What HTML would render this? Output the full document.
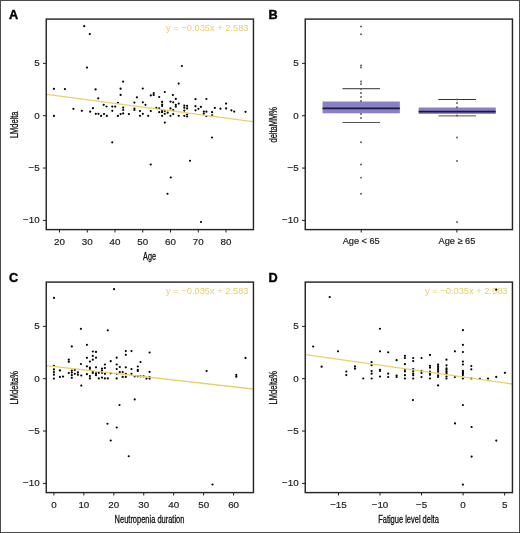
<!DOCTYPE html>
<html><head><meta charset="utf-8"><style>
html,body{margin:0;padding:0;background:#fff;}
svg{display:block;font-family:"Liberation Sans", sans-serif;will-change:transform;}
</style></head><body>
<svg width="520" height="533" viewBox="0 0 520 533" font-family='"Liberation Sans", sans-serif'>
<rect x="0.5" y="0.5" width="519" height="532" fill="#fff" stroke="#4a4a4a" stroke-width="1"/>
<text x="8.9" y="18.8" font-size="12.7" font-weight="bold" fill="#000" stroke="#000" stroke-width="0.4">A</text>
<text x="268.5" y="18.8" font-size="12.7" font-weight="bold" fill="#000" stroke="#000" stroke-width="0.4">B</text>
<text x="8.9" y="281.8" font-size="12.7" font-weight="bold" fill="#000" stroke="#000" stroke-width="0.4">C</text>
<text x="268.5" y="281.8" font-size="12.7" font-weight="bold" fill="#000" stroke="#000" stroke-width="0.4">D</text>
<line x1="59.50" y1="229" x2="59.50" y2="232.5" stroke="#1c1c1c" stroke-width="1"/>
<text x="59.50" y="244.6" font-size="9.8" text-anchor="middle" fill="#222" stroke="#222" stroke-width="0.2">20</text>
<line x1="87.25" y1="229" x2="87.25" y2="232.5" stroke="#1c1c1c" stroke-width="1"/>
<text x="87.25" y="244.6" font-size="9.8" text-anchor="middle" fill="#222" stroke="#222" stroke-width="0.2">30</text>
<line x1="115.00" y1="229" x2="115.00" y2="232.5" stroke="#1c1c1c" stroke-width="1"/>
<text x="115.00" y="244.6" font-size="9.8" text-anchor="middle" fill="#222" stroke="#222" stroke-width="0.2">40</text>
<line x1="142.75" y1="229" x2="142.75" y2="232.5" stroke="#1c1c1c" stroke-width="1"/>
<text x="142.75" y="244.6" font-size="9.8" text-anchor="middle" fill="#222" stroke="#222" stroke-width="0.2">50</text>
<line x1="170.50" y1="229" x2="170.50" y2="232.5" stroke="#1c1c1c" stroke-width="1"/>
<text x="170.50" y="244.6" font-size="9.8" text-anchor="middle" fill="#222" stroke="#222" stroke-width="0.2">60</text>
<line x1="198.25" y1="229" x2="198.25" y2="232.5" stroke="#1c1c1c" stroke-width="1"/>
<text x="198.25" y="244.6" font-size="9.8" text-anchor="middle" fill="#222" stroke="#222" stroke-width="0.2">70</text>
<line x1="226.00" y1="229" x2="226.00" y2="232.5" stroke="#1c1c1c" stroke-width="1"/>
<text x="226.00" y="244.6" font-size="9.8" text-anchor="middle" fill="#222" stroke="#222" stroke-width="0.2">80</text>
<line x1="43" y1="63.35" x2="46" y2="63.35" stroke="#1c1c1c" stroke-width="1"/>
<text x="39.7" y="66.35" font-size="9.8" text-anchor="end" fill="#222" stroke="#222" stroke-width="0.2">5</text>
<line x1="43" y1="115.70" x2="46" y2="115.70" stroke="#1c1c1c" stroke-width="1"/>
<text x="39.7" y="118.70" font-size="9.8" text-anchor="end" fill="#222" stroke="#222" stroke-width="0.2">0</text>
<line x1="43" y1="168.05" x2="46" y2="168.05" stroke="#1c1c1c" stroke-width="1"/>
<text x="39.7" y="171.05" font-size="9.8" text-anchor="end" fill="#222" stroke="#222" stroke-width="0.2">−5</text>
<line x1="43" y1="220.40" x2="46" y2="220.40" stroke="#1c1c1c" stroke-width="1"/>
<text x="39.7" y="223.40" font-size="9.8" text-anchor="end" fill="#222" stroke="#222" stroke-width="0.2">−10</text>
<text transform="translate(17.6,124.8) rotate(-90) scale(0.72,1)" x="0" y="0" font-size="10.4" text-anchor="middle" fill="#111" stroke="#111" stroke-width="0.3">LMdelta</text>
<text transform="translate(149.5,259.6) scale(0.7,1)" x="0" y="0" font-size="10.4" text-anchor="middle" fill="#111" stroke="#111" stroke-width="0.3">Age</text>
<text x="248.5" y="31.0" font-size="9.3" text-anchor="end" fill="#e8cf6c">y = −0.035x + 2.583</text>
<circle cx="84.20" cy="26.20" r="1.1" fill="#000"/>
<circle cx="89.80" cy="34.10" r="1.1" fill="#000"/>
<circle cx="87.00" cy="67.60" r="1.1" fill="#000"/>
<circle cx="181.90" cy="66.00" r="1.1" fill="#000"/>
<circle cx="123.10" cy="81.60" r="1.1" fill="#000"/>
<circle cx="178.70" cy="83.60" r="1.1" fill="#000"/>
<circle cx="53.90" cy="88.85" r="1.1" fill="#000"/>
<circle cx="64.90" cy="89.10" r="1.1" fill="#000"/>
<circle cx="73.40" cy="108.80" r="1.1" fill="#000"/>
<circle cx="81.80" cy="110.80" r="1.1" fill="#000"/>
<circle cx="90.20" cy="111.70" r="1.1" fill="#000"/>
<circle cx="92.90" cy="108.20" r="1.1" fill="#000"/>
<circle cx="53.90" cy="115.90" r="1.1" fill="#000"/>
<circle cx="95.60" cy="89.40" r="1.1" fill="#000"/>
<circle cx="95.80" cy="113.80" r="1.1" fill="#000"/>
<circle cx="120.60" cy="88.70" r="1.1" fill="#000"/>
<circle cx="120.60" cy="94.90" r="1.1" fill="#000"/>
<circle cx="98.20" cy="98.30" r="1.1" fill="#000"/>
<circle cx="136.90" cy="97.30" r="1.1" fill="#000"/>
<circle cx="117.90" cy="102.80" r="1.1" fill="#000"/>
<circle cx="134.40" cy="102.60" r="1.1" fill="#000"/>
<circle cx="103.70" cy="104.80" r="1.1" fill="#000"/>
<circle cx="106.50" cy="106.50" r="1.1" fill="#000"/>
<circle cx="112.30" cy="106.60" r="1.1" fill="#000"/>
<circle cx="115.20" cy="106.60" r="1.1" fill="#000"/>
<circle cx="123.20" cy="107.60" r="1.1" fill="#000"/>
<circle cx="123.20" cy="110.00" r="1.1" fill="#000"/>
<circle cx="134.40" cy="108.50" r="1.1" fill="#000"/>
<circle cx="134.40" cy="110.00" r="1.1" fill="#000"/>
<circle cx="112.30" cy="110.80" r="1.1" fill="#000"/>
<circle cx="98.50" cy="113.80" r="1.1" fill="#000"/>
<circle cx="104.00" cy="114.10" r="1.1" fill="#000"/>
<circle cx="101.10" cy="115.90" r="1.1" fill="#000"/>
<circle cx="106.80" cy="115.90" r="1.1" fill="#000"/>
<circle cx="117.90" cy="115.90" r="1.1" fill="#000"/>
<circle cx="120.60" cy="114.10" r="1.1" fill="#000"/>
<circle cx="123.20" cy="113.40" r="1.1" fill="#000"/>
<circle cx="128.90" cy="114.10" r="1.1" fill="#000"/>
<circle cx="142.80" cy="88.50" r="1.1" fill="#000"/>
<circle cx="164.80" cy="92.00" r="1.1" fill="#000"/>
<circle cx="153.70" cy="93.00" r="1.1" fill="#000"/>
<circle cx="153.70" cy="94.90" r="1.1" fill="#000"/>
<circle cx="150.80" cy="95.40" r="1.1" fill="#000"/>
<circle cx="172.90" cy="95.10" r="1.1" fill="#000"/>
<circle cx="159.20" cy="97.00" r="1.1" fill="#000"/>
<circle cx="175.80" cy="98.90" r="1.1" fill="#000"/>
<circle cx="142.80" cy="102.30" r="1.1" fill="#000"/>
<circle cx="145.50" cy="104.80" r="1.1" fill="#000"/>
<circle cx="162.10" cy="101.90" r="1.1" fill="#000"/>
<circle cx="162.10" cy="104.50" r="1.1" fill="#000"/>
<circle cx="162.10" cy="106.00" r="1.1" fill="#000"/>
<circle cx="170.50" cy="101.60" r="1.1" fill="#000"/>
<circle cx="173.20" cy="102.30" r="1.1" fill="#000"/>
<circle cx="175.80" cy="104.80" r="1.1" fill="#000"/>
<circle cx="175.80" cy="106.70" r="1.1" fill="#000"/>
<circle cx="178.70" cy="103.60" r="1.1" fill="#000"/>
<circle cx="156.30" cy="107.90" r="1.1" fill="#000"/>
<circle cx="159.20" cy="108.40" r="1.1" fill="#000"/>
<circle cx="170.50" cy="108.40" r="1.1" fill="#000"/>
<circle cx="173.20" cy="110.10" r="1.1" fill="#000"/>
<circle cx="140.00" cy="111.00" r="1.1" fill="#000"/>
<circle cx="150.80" cy="111.00" r="1.1" fill="#000"/>
<circle cx="162.10" cy="110.80" r="1.1" fill="#000"/>
<circle cx="162.10" cy="112.20" r="1.1" fill="#000"/>
<circle cx="159.20" cy="112.20" r="1.1" fill="#000"/>
<circle cx="164.80" cy="111.00" r="1.1" fill="#000"/>
<circle cx="167.70" cy="112.70" r="1.1" fill="#000"/>
<circle cx="142.80" cy="113.80" r="1.1" fill="#000"/>
<circle cx="164.80" cy="113.80" r="1.1" fill="#000"/>
<circle cx="173.20" cy="114.10" r="1.1" fill="#000"/>
<circle cx="140.00" cy="115.80" r="1.1" fill="#000"/>
<circle cx="148.20" cy="115.80" r="1.1" fill="#000"/>
<circle cx="162.10" cy="115.80" r="1.1" fill="#000"/>
<circle cx="170.50" cy="115.80" r="1.1" fill="#000"/>
<circle cx="178.70" cy="115.80" r="1.1" fill="#000"/>
<circle cx="164.80" cy="122.60" r="1.1" fill="#000"/>
<circle cx="184.30" cy="105.50" r="1.1" fill="#000"/>
<circle cx="187.10" cy="105.80" r="1.1" fill="#000"/>
<circle cx="184.30" cy="107.70" r="1.1" fill="#000"/>
<circle cx="187.10" cy="108.40" r="1.1" fill="#000"/>
<circle cx="184.30" cy="110.60" r="1.1" fill="#000"/>
<circle cx="184.30" cy="115.80" r="1.1" fill="#000"/>
<circle cx="187.10" cy="114.50" r="1.1" fill="#000"/>
<circle cx="187.10" cy="116.50" r="1.1" fill="#000"/>
<circle cx="195.50" cy="99.20" r="1.1" fill="#000"/>
<circle cx="206.40" cy="99.00" r="1.1" fill="#000"/>
<circle cx="195.50" cy="106.20" r="1.1" fill="#000"/>
<circle cx="200.90" cy="106.90" r="1.1" fill="#000"/>
<circle cx="198.40" cy="108.80" r="1.1" fill="#000"/>
<circle cx="195.50" cy="110.30" r="1.1" fill="#000"/>
<circle cx="203.80" cy="111.70" r="1.1" fill="#000"/>
<circle cx="203.80" cy="113.80" r="1.1" fill="#000"/>
<circle cx="206.40" cy="111.70" r="1.1" fill="#000"/>
<circle cx="206.40" cy="116.10" r="1.1" fill="#000"/>
<circle cx="212.10" cy="112.20" r="1.1" fill="#000"/>
<circle cx="212.10" cy="115.40" r="1.1" fill="#000"/>
<circle cx="214.80" cy="107.90" r="1.1" fill="#000"/>
<circle cx="220.50" cy="108.70" r="1.1" fill="#000"/>
<circle cx="226.10" cy="103.60" r="1.1" fill="#000"/>
<circle cx="226.10" cy="108.40" r="1.1" fill="#000"/>
<circle cx="231.40" cy="110.30" r="1.1" fill="#000"/>
<circle cx="234.20" cy="111.60" r="1.1" fill="#000"/>
<circle cx="245.50" cy="111.80" r="1.1" fill="#000"/>
<circle cx="112.20" cy="142.30" r="1.1" fill="#000"/>
<circle cx="212.00" cy="137.50" r="1.1" fill="#000"/>
<circle cx="150.75" cy="164.50" r="1.1" fill="#000"/>
<circle cx="190.00" cy="160.75" r="1.1" fill="#000"/>
<circle cx="170.75" cy="177.50" r="1.1" fill="#000"/>
<circle cx="167.50" cy="193.75" r="1.1" fill="#000"/>
<circle cx="201.00" cy="222.00" r="1.1" fill="#000"/>
<line x1="46.5" y1="94.4" x2="253" y2="121.6" stroke="#e8d06a" stroke-width="1.3"/>
<rect x="46.25" y="19.1" width="207.2" height="210.5" fill="none" stroke="#262626" stroke-width="1.45"/>
<line x1="302" y1="63.35" x2="305" y2="63.35" stroke="#1c1c1c" stroke-width="1"/>
<text x="298.7" y="66.35" font-size="9.8" text-anchor="end" fill="#222" stroke="#222" stroke-width="0.2">5</text>
<line x1="302" y1="115.70" x2="305" y2="115.70" stroke="#1c1c1c" stroke-width="1"/>
<text x="298.7" y="118.70" font-size="9.8" text-anchor="end" fill="#222" stroke="#222" stroke-width="0.2">0</text>
<line x1="302" y1="168.05" x2="305" y2="168.05" stroke="#1c1c1c" stroke-width="1"/>
<text x="298.7" y="171.05" font-size="9.8" text-anchor="end" fill="#222" stroke="#222" stroke-width="0.2">−5</text>
<line x1="302" y1="220.40" x2="305" y2="220.40" stroke="#1c1c1c" stroke-width="1"/>
<text x="298.7" y="223.40" font-size="9.8" text-anchor="end" fill="#222" stroke="#222" stroke-width="0.2">−10</text>
<text transform="translate(276.6,124.8) rotate(-90) scale(0.72,1)" x="0" y="0" font-size="10.4" text-anchor="middle" fill="#111" stroke="#111" stroke-width="0.3">deltaMM%</text>
<line x1="361.2" y1="229" x2="361.2" y2="232.5" stroke="#1c1c1c" stroke-width="1"/>
<text x="361.2" y="244.0" font-size="9.2" text-anchor="middle" fill="#222" stroke="#222" stroke-width="0.2">Age &lt; 65</text>
<line x1="456.9" y1="229" x2="456.9" y2="232.5" stroke="#1c1c1c" stroke-width="1"/>
<text x="456.9" y="244.0" font-size="9.2" text-anchor="middle" fill="#222" stroke="#222" stroke-width="0.2">Age ≥ 65</text>
<line x1="342.4" y1="88.7" x2="380.0" y2="88.7" stroke="#333" stroke-width="1"/>
<line x1="342.4" y1="122.5" x2="380.0" y2="122.5" stroke="#555" stroke-width="1"/>
<rect x="322.55" y="101.5" width="77.3" height="11.799999999999997" fill="#8a80c8"/>
<line x1="322.55" y1="108.4" x2="399.84999999999997" y2="108.4" stroke="#1a1840" stroke-width="1.6"/>
<line x1="438.4" y1="99.5" x2="476.0" y2="99.5" stroke="#333" stroke-width="1"/>
<line x1="438.4" y1="115.9" x2="476.0" y2="115.9" stroke="#555" stroke-width="1"/>
<rect x="418.65" y="107.5" width="77.1" height="6.400000000000006" fill="#8a80c8"/>
<line x1="418.65" y1="111.6" x2="495.75" y2="111.6" stroke="#1a1840" stroke-width="1.6"/>
<circle cx="361.00" cy="26.50" r="0.95" fill="#555"/>
<circle cx="361.00" cy="34.30" r="0.95" fill="#555"/>
<circle cx="361.00" cy="65.50" r="0.95" fill="#555"/>
<circle cx="361.00" cy="67.50" r="0.95" fill="#555"/>
<circle cx="361.00" cy="81.50" r="0.95" fill="#555"/>
<circle cx="361.00" cy="84.00" r="0.95" fill="#555"/>
<circle cx="361.00" cy="89.00" r="0.95" fill="#555"/>
<circle cx="361.00" cy="93.00" r="0.95" fill="#555"/>
<circle cx="361.00" cy="97.00" r="0.95" fill="#555"/>
<circle cx="361.00" cy="101.00" r="0.95" fill="#555"/>
<circle cx="361.00" cy="114.00" r="0.95" fill="#555"/>
<circle cx="361.00" cy="118.00" r="0.95" fill="#555"/>
<circle cx="361.00" cy="142.30" r="0.95" fill="#555"/>
<circle cx="361.00" cy="164.50" r="0.95" fill="#555"/>
<circle cx="361.00" cy="177.60" r="0.95" fill="#555"/>
<circle cx="361.00" cy="193.80" r="0.95" fill="#555"/>
<circle cx="457.00" cy="99.50" r="0.95" fill="#555"/>
<circle cx="457.00" cy="103.00" r="0.95" fill="#555"/>
<circle cx="457.00" cy="107.20" r="0.95" fill="#555"/>
<circle cx="457.00" cy="115.50" r="0.95" fill="#555"/>
<circle cx="457.00" cy="137.50" r="0.95" fill="#555"/>
<circle cx="457.00" cy="161.00" r="0.95" fill="#555"/>
<circle cx="457.00" cy="222.00" r="0.95" fill="#555"/>
<rect x="305.25" y="19.1" width="207.2" height="210.5" fill="none" stroke="#262626" stroke-width="1.45"/>
<line x1="53.90" y1="492" x2="53.90" y2="495.5" stroke="#1c1c1c" stroke-width="1"/>
<text x="53.90" y="507.6" font-size="9.8" text-anchor="middle" fill="#222" stroke="#222" stroke-width="0.2">0</text>
<line x1="83.85" y1="492" x2="83.85" y2="495.5" stroke="#1c1c1c" stroke-width="1"/>
<text x="83.85" y="507.6" font-size="9.8" text-anchor="middle" fill="#222" stroke="#222" stroke-width="0.2">10</text>
<line x1="113.80" y1="492" x2="113.80" y2="495.5" stroke="#1c1c1c" stroke-width="1"/>
<text x="113.80" y="507.6" font-size="9.8" text-anchor="middle" fill="#222" stroke="#222" stroke-width="0.2">20</text>
<line x1="143.75" y1="492" x2="143.75" y2="495.5" stroke="#1c1c1c" stroke-width="1"/>
<text x="143.75" y="507.6" font-size="9.8" text-anchor="middle" fill="#222" stroke="#222" stroke-width="0.2">30</text>
<line x1="173.70" y1="492" x2="173.70" y2="495.5" stroke="#1c1c1c" stroke-width="1"/>
<text x="173.70" y="507.6" font-size="9.8" text-anchor="middle" fill="#222" stroke="#222" stroke-width="0.2">40</text>
<line x1="203.65" y1="492" x2="203.65" y2="495.5" stroke="#1c1c1c" stroke-width="1"/>
<text x="203.65" y="507.6" font-size="9.8" text-anchor="middle" fill="#222" stroke="#222" stroke-width="0.2">50</text>
<line x1="233.60" y1="492" x2="233.60" y2="495.5" stroke="#1c1c1c" stroke-width="1"/>
<text x="233.60" y="507.6" font-size="9.8" text-anchor="middle" fill="#222" stroke="#222" stroke-width="0.2">60</text>
<line x1="43" y1="326.35" x2="46" y2="326.35" stroke="#1c1c1c" stroke-width="1"/>
<text x="39.7" y="329.35" font-size="9.8" text-anchor="end" fill="#222" stroke="#222" stroke-width="0.2">5</text>
<line x1="43" y1="378.70" x2="46" y2="378.70" stroke="#1c1c1c" stroke-width="1"/>
<text x="39.7" y="381.70" font-size="9.8" text-anchor="end" fill="#222" stroke="#222" stroke-width="0.2">0</text>
<line x1="43" y1="431.05" x2="46" y2="431.05" stroke="#1c1c1c" stroke-width="1"/>
<text x="39.7" y="434.05" font-size="9.8" text-anchor="end" fill="#222" stroke="#222" stroke-width="0.2">−5</text>
<line x1="43" y1="483.40" x2="46" y2="483.40" stroke="#1c1c1c" stroke-width="1"/>
<text x="39.7" y="486.40" font-size="9.8" text-anchor="end" fill="#222" stroke="#222" stroke-width="0.2">−10</text>
<text transform="translate(17.6,387.8) rotate(-90) scale(0.72,1)" x="0" y="0" font-size="10.4" text-anchor="middle" fill="#111" stroke="#111" stroke-width="0.3">LMdelta%</text>
<text transform="translate(149.5,522.6) scale(0.72,1)" x="0" y="0" font-size="10.4" text-anchor="middle" fill="#111" stroke="#111" stroke-width="0.3">Neutropenia duration</text>
<text x="248.5" y="294.0" font-size="9.3" text-anchor="end" fill="#e8cf6c">y = −0.035x + 2.583</text>
<circle cx="114.10" cy="289.20" r="1.1" fill="#000"/>
<circle cx="54.00" cy="297.90" r="1.1" fill="#000"/>
<circle cx="80.90" cy="328.80" r="1.1" fill="#000"/>
<circle cx="107.80" cy="330.30" r="1.1" fill="#000"/>
<circle cx="71.80" cy="346.40" r="1.1" fill="#000"/>
<circle cx="86.90" cy="344.80" r="1.1" fill="#000"/>
<circle cx="92.80" cy="351.50" r="1.1" fill="#000"/>
<circle cx="96.00" cy="351.90" r="1.1" fill="#000"/>
<circle cx="92.80" cy="355.90" r="1.1" fill="#000"/>
<circle cx="96.00" cy="357.70" r="1.1" fill="#000"/>
<circle cx="86.90" cy="357.80" r="1.1" fill="#000"/>
<circle cx="92.80" cy="359.70" r="1.1" fill="#000"/>
<circle cx="89.90" cy="361.50" r="1.1" fill="#000"/>
<circle cx="68.80" cy="359.70" r="1.1" fill="#000"/>
<circle cx="68.80" cy="361.80" r="1.1" fill="#000"/>
<circle cx="80.90" cy="364.00" r="1.1" fill="#000"/>
<circle cx="53.90" cy="365.80" r="1.1" fill="#000"/>
<circle cx="53.90" cy="369.40" r="1.1" fill="#000"/>
<circle cx="53.90" cy="372.10" r="1.1" fill="#000"/>
<circle cx="53.90" cy="374.70" r="1.1" fill="#000"/>
<circle cx="53.90" cy="378.60" r="1.1" fill="#000"/>
<circle cx="59.90" cy="370.40" r="1.1" fill="#000"/>
<circle cx="59.90" cy="376.90" r="1.1" fill="#000"/>
<circle cx="63.00" cy="376.60" r="1.1" fill="#000"/>
<circle cx="68.80" cy="373.10" r="1.1" fill="#000"/>
<circle cx="71.80" cy="370.70" r="1.1" fill="#000"/>
<circle cx="71.80" cy="372.60" r="1.1" fill="#000"/>
<circle cx="71.80" cy="375.20" r="1.1" fill="#000"/>
<circle cx="71.80" cy="377.80" r="1.1" fill="#000"/>
<circle cx="74.80" cy="369.90" r="1.1" fill="#000"/>
<circle cx="74.80" cy="373.80" r="1.1" fill="#000"/>
<circle cx="77.90" cy="372.30" r="1.1" fill="#000"/>
<circle cx="77.90" cy="374.70" r="1.1" fill="#000"/>
<circle cx="81.30" cy="375.50" r="1.1" fill="#000"/>
<circle cx="81.30" cy="385.60" r="1.1" fill="#000"/>
<circle cx="86.90" cy="366.30" r="1.1" fill="#000"/>
<circle cx="86.90" cy="374.20" r="1.1" fill="#000"/>
<circle cx="89.90" cy="367.50" r="1.1" fill="#000"/>
<circle cx="89.90" cy="368.80" r="1.1" fill="#000"/>
<circle cx="89.90" cy="376.00" r="1.1" fill="#000"/>
<circle cx="89.90" cy="378.40" r="1.1" fill="#000"/>
<circle cx="92.80" cy="371.80" r="1.1" fill="#000"/>
<circle cx="92.80" cy="373.00" r="1.1" fill="#000"/>
<circle cx="104.90" cy="364.50" r="1.1" fill="#000"/>
<circle cx="110.70" cy="361.20" r="1.1" fill="#000"/>
<circle cx="116.70" cy="357.70" r="1.1" fill="#000"/>
<circle cx="116.70" cy="364.50" r="1.1" fill="#000"/>
<circle cx="125.80" cy="351.10" r="1.1" fill="#000"/>
<circle cx="125.80" cy="354.80" r="1.1" fill="#000"/>
<circle cx="131.50" cy="351.10" r="1.1" fill="#000"/>
<circle cx="104.90" cy="368.00" r="1.1" fill="#000"/>
<circle cx="116.70" cy="369.00" r="1.1" fill="#000"/>
<circle cx="96.00" cy="367.30" r="1.1" fill="#000"/>
<circle cx="102.00" cy="368.50" r="1.1" fill="#000"/>
<circle cx="102.00" cy="370.40" r="1.1" fill="#000"/>
<circle cx="119.80" cy="367.00" r="1.1" fill="#000"/>
<circle cx="125.80" cy="367.30" r="1.1" fill="#000"/>
<circle cx="131.50" cy="369.00" r="1.1" fill="#000"/>
<circle cx="137.80" cy="366.50" r="1.1" fill="#000"/>
<circle cx="137.80" cy="369.90" r="1.1" fill="#000"/>
<circle cx="137.80" cy="370.90" r="1.1" fill="#000"/>
<circle cx="96.00" cy="373.30" r="1.1" fill="#000"/>
<circle cx="96.00" cy="375.20" r="1.1" fill="#000"/>
<circle cx="98.80" cy="372.80" r="1.1" fill="#000"/>
<circle cx="102.00" cy="372.80" r="1.1" fill="#000"/>
<circle cx="104.90" cy="373.80" r="1.1" fill="#000"/>
<circle cx="110.70" cy="373.30" r="1.1" fill="#000"/>
<circle cx="116.70" cy="373.80" r="1.1" fill="#000"/>
<circle cx="119.80" cy="372.10" r="1.1" fill="#000"/>
<circle cx="122.70" cy="372.10" r="1.1" fill="#000"/>
<circle cx="125.80" cy="373.80" r="1.1" fill="#000"/>
<circle cx="131.50" cy="373.80" r="1.1" fill="#000"/>
<circle cx="98.80" cy="378.40" r="1.1" fill="#000"/>
<circle cx="102.00" cy="377.60" r="1.1" fill="#000"/>
<circle cx="104.90" cy="378.40" r="1.1" fill="#000"/>
<circle cx="107.80" cy="378.40" r="1.1" fill="#000"/>
<circle cx="116.70" cy="378.40" r="1.1" fill="#000"/>
<circle cx="122.70" cy="376.90" r="1.1" fill="#000"/>
<circle cx="125.80" cy="376.90" r="1.1" fill="#000"/>
<circle cx="134.70" cy="376.30" r="1.1" fill="#000"/>
<circle cx="137.80" cy="376.30" r="1.1" fill="#000"/>
<circle cx="134.70" cy="399.40" r="1.1" fill="#000"/>
<circle cx="149.60" cy="352.50" r="1.1" fill="#000"/>
<circle cx="140.50" cy="362.00" r="1.1" fill="#000"/>
<circle cx="149.60" cy="371.80" r="1.1" fill="#000"/>
<circle cx="140.50" cy="376.30" r="1.1" fill="#000"/>
<circle cx="143.60" cy="376.30" r="1.1" fill="#000"/>
<circle cx="146.50" cy="378.60" r="1.1" fill="#000"/>
<circle cx="149.60" cy="377.10" r="1.1" fill="#000"/>
<circle cx="149.60" cy="378.60" r="1.1" fill="#000"/>
<circle cx="119.50" cy="405.00" r="1.1" fill="#000"/>
<circle cx="107.50" cy="423.75" r="1.1" fill="#000"/>
<circle cx="116.75" cy="427.50" r="1.1" fill="#000"/>
<circle cx="110.75" cy="440.50" r="1.1" fill="#000"/>
<circle cx="128.75" cy="456.25" r="1.1" fill="#000"/>
<circle cx="212.50" cy="484.50" r="1.1" fill="#000"/>
<circle cx="245.50" cy="357.90" r="1.1" fill="#000"/>
<circle cx="206.60" cy="371.00" r="1.1" fill="#000"/>
<circle cx="236.30" cy="374.80" r="1.1" fill="#000"/>
<circle cx="236.30" cy="376.70" r="1.1" fill="#000"/>
<line x1="46.5" y1="365.7" x2="253" y2="389" stroke="#e8d06a" stroke-width="1.3"/>
<rect x="46.25" y="282.1" width="207.2" height="210.5" fill="none" stroke="#262626" stroke-width="1.45"/>
<line x1="338.45" y1="492" x2="338.45" y2="495.5" stroke="#1c1c1c" stroke-width="1"/>
<text x="338.45" y="507.6" font-size="9.8" text-anchor="middle" fill="#222" stroke="#222" stroke-width="0.2">−15</text>
<line x1="380.00" y1="492" x2="380.00" y2="495.5" stroke="#1c1c1c" stroke-width="1"/>
<text x="380.00" y="507.6" font-size="9.8" text-anchor="middle" fill="#222" stroke="#222" stroke-width="0.2">−10</text>
<line x1="421.55" y1="492" x2="421.55" y2="495.5" stroke="#1c1c1c" stroke-width="1"/>
<text x="421.55" y="507.6" font-size="9.8" text-anchor="middle" fill="#222" stroke="#222" stroke-width="0.2">−5</text>
<line x1="463.10" y1="492" x2="463.10" y2="495.5" stroke="#1c1c1c" stroke-width="1"/>
<text x="463.10" y="507.6" font-size="9.8" text-anchor="middle" fill="#222" stroke="#222" stroke-width="0.2">0</text>
<line x1="504.65" y1="492" x2="504.65" y2="495.5" stroke="#1c1c1c" stroke-width="1"/>
<text x="504.65" y="507.6" font-size="9.8" text-anchor="middle" fill="#222" stroke="#222" stroke-width="0.2">5</text>
<line x1="302" y1="326.35" x2="305" y2="326.35" stroke="#1c1c1c" stroke-width="1"/>
<text x="298.7" y="329.35" font-size="9.8" text-anchor="end" fill="#222" stroke="#222" stroke-width="0.2">5</text>
<line x1="302" y1="378.70" x2="305" y2="378.70" stroke="#1c1c1c" stroke-width="1"/>
<text x="298.7" y="381.70" font-size="9.8" text-anchor="end" fill="#222" stroke="#222" stroke-width="0.2">0</text>
<line x1="302" y1="431.05" x2="305" y2="431.05" stroke="#1c1c1c" stroke-width="1"/>
<text x="298.7" y="434.05" font-size="9.8" text-anchor="end" fill="#222" stroke="#222" stroke-width="0.2">−5</text>
<line x1="302" y1="483.40" x2="305" y2="483.40" stroke="#1c1c1c" stroke-width="1"/>
<text x="298.7" y="486.40" font-size="9.8" text-anchor="end" fill="#222" stroke="#222" stroke-width="0.2">−10</text>
<text transform="translate(276.6,387.8) rotate(-90) scale(0.72,1)" x="0" y="0" font-size="10.4" text-anchor="middle" fill="#111" stroke="#111" stroke-width="0.3">LMdelta%</text>
<text transform="translate(408.5,522.6) scale(0.72,1)" x="0" y="0" font-size="10.4" text-anchor="middle" fill="#111" stroke="#111" stroke-width="0.3">Fatigue level delta</text>
<text x="507.5" y="294.0" font-size="9.3" text-anchor="end" fill="#e8cf6c">y = −0.035x + 2.583</text>
<circle cx="313.20" cy="346.50" r="1.1" fill="#000"/>
<circle cx="338.00" cy="351.30" r="1.1" fill="#000"/>
<circle cx="321.60" cy="366.70" r="1.1" fill="#000"/>
<circle cx="346.30" cy="371.50" r="1.1" fill="#000"/>
<circle cx="346.30" cy="375.10" r="1.1" fill="#000"/>
<circle cx="355.00" cy="366.40" r="1.1" fill="#000"/>
<circle cx="355.00" cy="368.70" r="1.1" fill="#000"/>
<circle cx="363.30" cy="378.50" r="1.1" fill="#000"/>
<circle cx="371.60" cy="362.10" r="1.1" fill="#000"/>
<circle cx="371.60" cy="365.20" r="1.1" fill="#000"/>
<circle cx="371.60" cy="371.00" r="1.1" fill="#000"/>
<circle cx="371.60" cy="373.70" r="1.1" fill="#000"/>
<circle cx="371.60" cy="378.50" r="1.1" fill="#000"/>
<circle cx="380.00" cy="351.30" r="1.1" fill="#000"/>
<circle cx="380.00" cy="369.80" r="1.1" fill="#000"/>
<circle cx="380.00" cy="371.00" r="1.1" fill="#000"/>
<circle cx="380.00" cy="376.50" r="1.1" fill="#000"/>
<circle cx="388.20" cy="352.30" r="1.1" fill="#000"/>
<circle cx="388.20" cy="373.70" r="1.1" fill="#000"/>
<circle cx="388.20" cy="377.00" r="1.1" fill="#000"/>
<circle cx="396.60" cy="360.20" r="1.1" fill="#000"/>
<circle cx="396.60" cy="375.60" r="1.1" fill="#000"/>
<circle cx="396.60" cy="377.00" r="1.1" fill="#000"/>
<circle cx="329.70" cy="297.10" r="1.1" fill="#000"/>
<circle cx="379.90" cy="328.75" r="1.1" fill="#000"/>
<circle cx="462.90" cy="330.20" r="1.1" fill="#000"/>
<circle cx="462.90" cy="344.80" r="1.1" fill="#000"/>
<circle cx="496.25" cy="289.70" r="1.1" fill="#000"/>
<circle cx="404.90" cy="355.80" r="1.1" fill="#000"/>
<circle cx="404.90" cy="358.00" r="1.1" fill="#000"/>
<circle cx="404.90" cy="364.20" r="1.1" fill="#000"/>
<circle cx="404.90" cy="370.00" r="1.1" fill="#000"/>
<circle cx="404.90" cy="371.50" r="1.1" fill="#000"/>
<circle cx="404.90" cy="375.20" r="1.1" fill="#000"/>
<circle cx="404.90" cy="378.50" r="1.1" fill="#000"/>
<circle cx="413.20" cy="358.00" r="1.1" fill="#000"/>
<circle cx="413.20" cy="361.10" r="1.1" fill="#000"/>
<circle cx="413.20" cy="369.00" r="1.1" fill="#000"/>
<circle cx="413.20" cy="371.20" r="1.1" fill="#000"/>
<circle cx="413.20" cy="373.50" r="1.1" fill="#000"/>
<circle cx="413.20" cy="375.20" r="1.1" fill="#000"/>
<circle cx="413.20" cy="378.50" r="1.1" fill="#000"/>
<circle cx="421.50" cy="358.00" r="1.1" fill="#000"/>
<circle cx="421.50" cy="370.80" r="1.1" fill="#000"/>
<circle cx="421.50" cy="373.00" r="1.1" fill="#000"/>
<circle cx="421.50" cy="377.00" r="1.1" fill="#000"/>
<circle cx="430.00" cy="354.90" r="1.1" fill="#000"/>
<circle cx="430.00" cy="365.80" r="1.1" fill="#000"/>
<circle cx="430.00" cy="367.70" r="1.1" fill="#000"/>
<circle cx="430.00" cy="371.70" r="1.1" fill="#000"/>
<circle cx="430.00" cy="373.20" r="1.1" fill="#000"/>
<circle cx="430.00" cy="374.80" r="1.1" fill="#000"/>
<circle cx="430.00" cy="378.50" r="1.1" fill="#000"/>
<circle cx="438.10" cy="364.60" r="1.1" fill="#000"/>
<circle cx="438.10" cy="366.40" r="1.1" fill="#000"/>
<circle cx="438.10" cy="368.10" r="1.1" fill="#000"/>
<circle cx="438.10" cy="369.90" r="1.1" fill="#000"/>
<circle cx="438.10" cy="371.70" r="1.1" fill="#000"/>
<circle cx="438.10" cy="373.50" r="1.1" fill="#000"/>
<circle cx="438.10" cy="375.70" r="1.1" fill="#000"/>
<circle cx="438.10" cy="377.00" r="1.1" fill="#000"/>
<circle cx="438.10" cy="385.40" r="1.1" fill="#000"/>
<circle cx="446.50" cy="359.70" r="1.1" fill="#000"/>
<circle cx="446.50" cy="365.30" r="1.1" fill="#000"/>
<circle cx="446.50" cy="368.40" r="1.1" fill="#000"/>
<circle cx="446.50" cy="369.80" r="1.1" fill="#000"/>
<circle cx="446.50" cy="371.30" r="1.1" fill="#000"/>
<circle cx="446.50" cy="372.70" r="1.1" fill="#000"/>
<circle cx="446.50" cy="374.10" r="1.1" fill="#000"/>
<circle cx="446.50" cy="376.50" r="1.1" fill="#000"/>
<circle cx="446.50" cy="378.50" r="1.1" fill="#000"/>
<circle cx="454.90" cy="351.30" r="1.1" fill="#000"/>
<circle cx="454.90" cy="377.00" r="1.1" fill="#000"/>
<circle cx="462.90" cy="352.00" r="1.1" fill="#000"/>
<circle cx="462.90" cy="361.60" r="1.1" fill="#000"/>
<circle cx="462.90" cy="364.50" r="1.1" fill="#000"/>
<circle cx="462.90" cy="370.80" r="1.1" fill="#000"/>
<circle cx="462.90" cy="372.20" r="1.1" fill="#000"/>
<circle cx="462.90" cy="373.70" r="1.1" fill="#000"/>
<circle cx="462.90" cy="375.10" r="1.1" fill="#000"/>
<circle cx="462.90" cy="378.50" r="1.1" fill="#000"/>
<circle cx="471.30" cy="366.00" r="1.1" fill="#000"/>
<circle cx="471.30" cy="369.30" r="1.1" fill="#000"/>
<circle cx="471.30" cy="378.50" r="1.1" fill="#000"/>
<circle cx="479.90" cy="378.80" r="1.1" fill="#000"/>
<circle cx="488.00" cy="378.60" r="1.1" fill="#000"/>
<circle cx="496.20" cy="376.90" r="1.1" fill="#000"/>
<circle cx="504.90" cy="372.80" r="1.1" fill="#000"/>
<circle cx="412.90" cy="400.10" r="1.1" fill="#000"/>
<circle cx="462.90" cy="405.00" r="1.1" fill="#000"/>
<circle cx="455.00" cy="423.40" r="1.1" fill="#000"/>
<circle cx="471.60" cy="427.00" r="1.1" fill="#000"/>
<circle cx="496.30" cy="440.60" r="1.1" fill="#000"/>
<circle cx="471.60" cy="456.60" r="1.1" fill="#000"/>
<circle cx="462.90" cy="484.60" r="1.1" fill="#000"/>
<line x1="305.5" y1="354.7" x2="512" y2="384" stroke="#e8d06a" stroke-width="1.3"/>
<rect x="305.25" y="282.1" width="207.2" height="210.5" fill="none" stroke="#262626" stroke-width="1.45"/>
</svg>
</body></html>
